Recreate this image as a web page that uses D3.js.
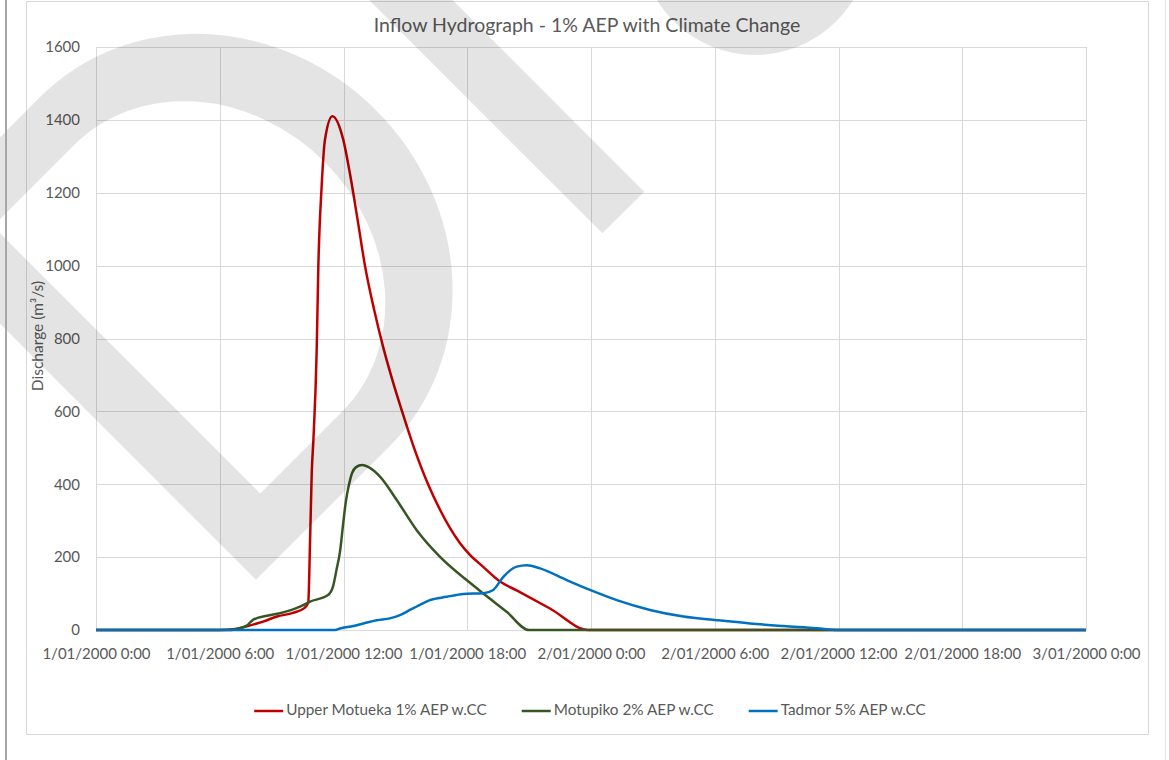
<!DOCTYPE html>
<html>
<head>
<meta charset="utf-8">
<script src="https://cdn.jsdelivr.net/npm/d3@7/dist/d3.min.js"></script>
<style>
  body { margin: 0; background: #fff; }
  svg text { font-family: Lato, 'Open Sans', sans-serif; fill: #595959; }
</style>
</head>
<body>
<svg id="chart" width="1169" height="760"></svg>
<script>
// axis ticks (hours from 1/01/2000 0:00)
const hourTicks = [0, 6, 12, 18, 24, 30, 36, 42, 48]
const tickLabels = [
  '1/01/2000 0:00', '1/01/2000 6:00', '1/01/2000 12:00', '1/01/2000 18:00',
  '2/01/2000 0:00', '2/01/2000 6:00', '2/01/2000 12:00', '2/01/2000 18:00',
  '3/01/2000 0:00'
]
const flowTicks = [0, 200, 400, 600, 800, 1000, 1200, 1400, 1600]

const seriesNames = ['Upper Motueka 1% AEP w.CC', 'Motupiko 2% AEP w.CC', 'Tadmor 5% AEP w.CC']
const seriesColors = ['#c00000', '#375623', '#0070c0']

// Upper Motueka (m3/s)
const upperHours = [0, 6, 6.64, 7.37, 8.1, 8.78, 9.55, 10.1, 10.29, 10.38, 10.46, 10.54, 10.7, 10.78,
  10.94, 11.1, 11.46, 11.99, 12.32, 12.7, 13.04, 13.48, 13.92, 14.35, 14.84, 15.42, 16.1, 16.68,
  17.16, 17.65, 18.13, 18.76, 19.59, 20.42, 22.01, 23.88, 48]
const upperFlow = [0, 0, 2, 11, 23, 37, 47, 60, 75, 247, 431, 521, 768, 997,
  1217, 1345, 1410, 1345, 1250, 1120, 1000, 880, 777, 690, 600, 500, 400, 330,
  280, 238, 206, 174, 133, 108, 59, 0, 0]

// Motupiko
const motuHours = [0, 6.5, 6.74, 7.31, 7.61, 8.29, 8.92, 9.89, 10.38, 11.25, 11.49, 11.66, 11.83,
  11.98, 12.12, 12.27, 12.41, 12.61, 12.9, 13.28, 13.77, 14.58, 15.55, 16.68, 17.97, 18.78,
  19.91, 21.0, 48]
const motuFlow = [0, 0, 2, 12, 28, 39, 46, 64, 78, 96, 119, 165, 215,
  290, 355, 400, 430, 447, 453, 445, 421, 357, 274, 201, 137, 100,
  50, 0, 0]

// Tadmor
const tadHours = [0, 11.59, 11.83, 12.48, 12.96, 13.61, 14.25, 14.74, 15.22, 15.71, 16.19, 17.0,
  17.81, 18.78, 19.26, 19.75, 20.4, 20.89, 21.53, 22.82, 23.95, 25.25, 26.86, 28.48, 30.1,
  31.71, 33.33, 34.94, 36.0, 48]
const tadFlow = [0, 0, 4, 11, 18, 27, 32, 41, 55, 69, 82, 91,
  99, 101, 110, 146, 174, 178, 169, 137, 110, 82, 55, 37, 27,
  18, 11, 5, 0, 0]

const W = 1169, H = 760
const plot = {left: 96, right: 1086, top: 47, bottom: 630}
const font = "Lato, 'Open Sans', sans-serif"

const svg = d3.select('#chart')

// chart frame
svg.append('rect')
  .attr('x', 26.5).attr('y', 1.5)
  .attr('width', 1122).attr('height', 733)
  .attr('fill', '#fff').attr('stroke', '#d9d9d9')

const x = d3.scaleLinear().domain([0, 48]).range([plot.left, plot.right])
const y = d3.scaleLinear().domain([0, 1600]).range([plot.bottom, plot.top])

// gridlines
const grid = svg.append('g').attr('class', 'grid')
grid.selectAll('line.h')
  .data(flowTicks)
  .enter().append('line')
  .attr('x1', plot.left).attr('x2', plot.right)
  .attr('y1', d => Math.round(y(d)) + 0.5).attr('y2', d => Math.round(y(d)) + 0.5)
  .attr('stroke', '#d9d9d9')
grid.selectAll('line.v')
  .data(hourTicks)
  .enter().append('line')
  .attr('y1', plot.top).attr('y2', plot.bottom)
  .attr('x1', d => Math.round(x(d)) + 0.5).attr('x2', d => Math.round(x(d)) + 0.5)
  .attr('stroke', '#d9d9d9')

// axes (labels only, no domain / ticks)
const yAxis = svg.append('g')
  .attr('transform', `translate(${plot.left},0)`)
  .call(d3.axisLeft(y).tickValues(flowTicks).tickSize(0).tickPadding(16)
    .tickFormat(d3.format('d')))
const xAxis = svg.append('g')
  .attr('transform', `translate(0,${plot.bottom})`)
  .call(d3.axisBottom(x).tickValues(hourTicks).tickSize(0).tickPadding(18)
    .tickFormat((d, i) => tickLabels[i]))
;[xAxis, yAxis].forEach(ax => {
  ax.select('.domain').remove()
  ax.selectAll('text')
    .attr('fill', '#595959')
    .style('font-size', '15px')
    .style('font-family', font)
})

// axis title
svg.append('text')
  .attr('transform', 'translate(39,336) rotate(-90)')
  .attr('text-anchor', 'middle')
  .attr('dominant-baseline', 'middle')
  .style('font-size', '15.5px')
  .text('Discharge (m³/s)')

// title
svg.append('text')
  .attr('x', 587).attr('y', 27)
  .attr('text-anchor', 'middle')
  .attr('dominant-baseline', 'middle')
  .style('font-size', '19.5px')
  .text('Inflow Hydrograph - 1% AEP with Climate Change')

// series
const series = [
  {hours: upperHours, flow: upperFlow},
  {hours: motuHours, flow: motuFlow},
  {hours: tadHours, flow: tadFlow}
]
const line = d3.line()
  .x(d => x(d[0]))
  .y(d => y(d[1]))
  .curve(d3.curveMonotoneX)

svg.append('g').selectAll('path')
  .data(series)
  .enter().append('path')
  .attr('d', s => line(d3.zip(s.hours, s.flow)))
  .attr('fill', 'none')
  .attr('stroke', (s, i) => seriesColors[i])
  .attr('stroke-width', 2.5)
  .attr('stroke-linejoin', 'round')

// legend, centred under the chart
const legend = svg.append('g')
const items = legend.selectAll('g')
  .data(seriesNames)
  .enter().append('g')
items.append('line')
  .attr('x1', 0).attr('x2', 29)
  .attr('y1', 711).attr('y2', 711)
  .attr('stroke', (d, i) => seriesColors[i])
  .attr('stroke-width', 2.5)
items.append('text')
  .attr('x', 32).attr('y', 711)
  .attr('dominant-baseline', 'middle')
  .style('font-size', '15.3px')
  .text(d => d)
const widths = []
items.each(function() {
  widths.push(32 + this.querySelector('text').getComputedTextLength())
})
const total = d3.sum(widths) + 35 * (widths.length - 1)
let offset = 590 - total / 2
items.attr('transform', (d, i) => {
  const tx = offset
  offset += widths[i] + 35
  return `translate(${tx},0)`
})

// DRAFT-style watermark, rotated -45deg (letter coords: u along baseline, v down)
const mark = svg.append('g')
  .attr('fill', '#000')
  .attr('fill-opacity', 0.105)
const letters = mark.append('g').attr('transform', 'rotate(-45)')
letters.append('path')
  .attr('fill-rule', 'evenodd')
  .attr('d', 'M-229,97 H-40 A228,247 0 0 1 -40,591 H-229 Z ' +
             'M-165,155 H-50 A165,189 0 0 1 -50,533 H-165 Z')
letters.append('rect')
  .attr('x', 261).attr('y', -300)
  .attr('width', 59).attr('height', 891)
mark.append('circle')
  .attr('cx', 755).attr('cy', -60).attr('r', 115)

// page edges
svg.append('line')
  .attr('x1', 6).attr('x2', 6).attr('y1', 0).attr('y2', H)
  .attr('stroke', '#a6a6a6').attr('stroke-width', 2)
svg.append('line')
  .attr('x1', 1165.5).attr('x2', 1165.5).attr('y1', 0).attr('y2', H)
  .attr('stroke', '#e6e6e6').attr('stroke-width', 1)
</script>
</body>
</html>
